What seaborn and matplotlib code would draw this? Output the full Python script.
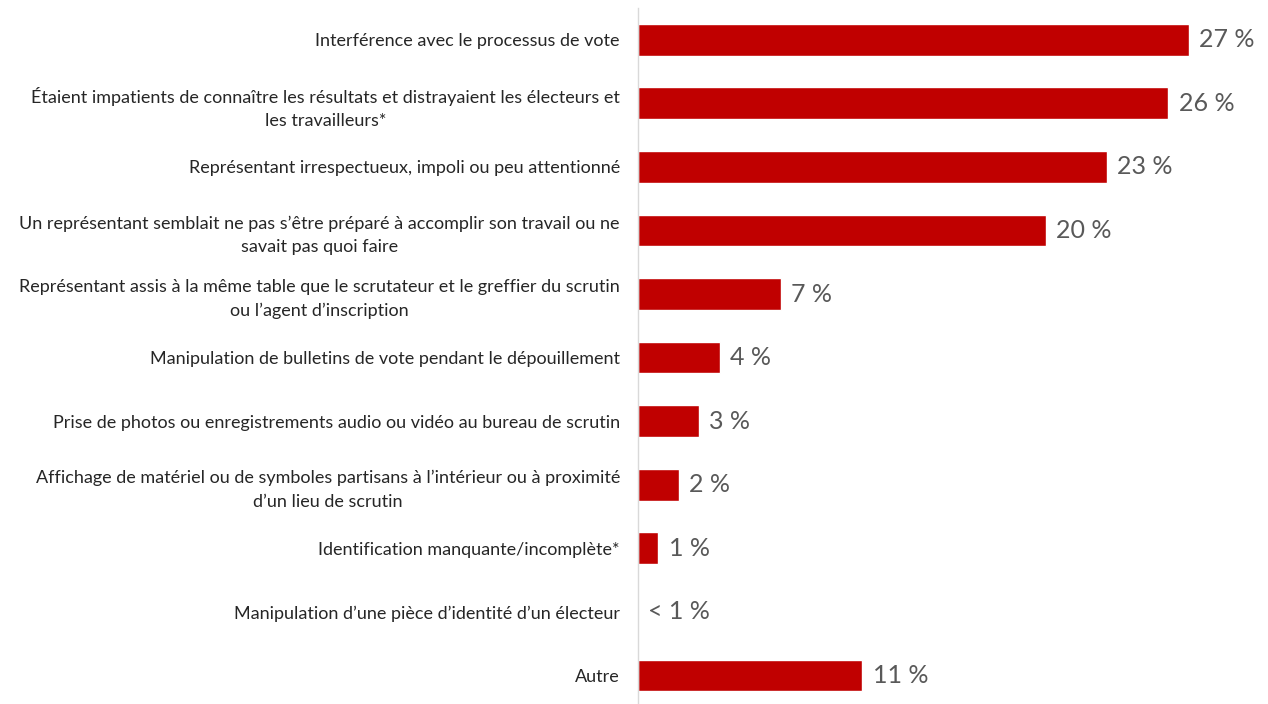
import matplotlib
matplotlib.use("Agg")
import matplotlib.pyplot as plt
import seaborn as sns
import pandas as pd

categories = [
    "Interférence avec le processus de vote",
    "Étaient impatients de connaître les résultats et distrayaient les électeurs et\nles travailleurs*",
    "Représentant irrespectueux, impoli ou peu attentionné",
    "Un représentant semblait ne pas s’être préparé à accomplir son travail ou ne\nsavait pas quoi faire",
    "Représentant assis à la même table que le scrutateur et le greffier du scrutin\nou l’agent d’inscription",
    "Manipulation de bulletins de vote pendant le dépouillement",
    "Prise de photos ou enregistrements audio ou vidéo au bureau de scrutin",
    "Affichage de matériel ou de symboles partisans à l’intérieur ou à proximité\nd’un lieu de scrutin",
    "Identification manquante/incomplète*",
    "Manipulation d’une pièce d’identité d’un électeur",
    "Autre",
]
values = [27, 26, 23, 20, 7, 4, 3, 2, 1, 0, 11]
value_labels = ["27 %", "26 %", "23 %", "20 %", "7 %", "4 %", "3 %", "2 %", "1 %", "< 1 %", "11 %"]

df = pd.DataFrame({"categorie": categories, "pct": values})

sns.set_theme(style="white")
plt.rcParams["font.family"] = ["Lato", "DejaVu Sans"]

fig = plt.figure(figsize=(12.68, 7.04), dpi=100)
ax = fig.add_axes([638 / 1268, 0.0, 1 - 638 / 1268 - 18 / 1268, 1 - 8 / 704])

sns.barplot(data=df, x="pct", y="categorie", orient="h", color="#C00000",
            saturation=1, width=0.5, ax=ax)

ax.set_xlim(0, 30.0)
ax.set_ylim(10.45, -0.5)
ax.set_xlabel("")
ax.set_ylabel("")
ax.set_xticks([])
ax.set_yticks(range(len(categories)))
ax.set_yticklabels(categories, fontsize=13, color="#262626", ha="right",
                   multialignment="center", linespacing=1.55)
ax.tick_params(axis="y", length=0, pad=13)

for side in ["top", "right", "bottom"]:
    ax.spines[side].set_visible(False)
ax.spines["left"].set_color("#d9d9d9")
ax.spines["left"].set_linewidth(1)

for i, (v, t) in enumerate(zip(values, value_labels)):
    ax.text(v + 0.5, i, t, va="center", ha="left", fontsize=18, color="#595959")

fig.savefig("out.png", dpi=100)
